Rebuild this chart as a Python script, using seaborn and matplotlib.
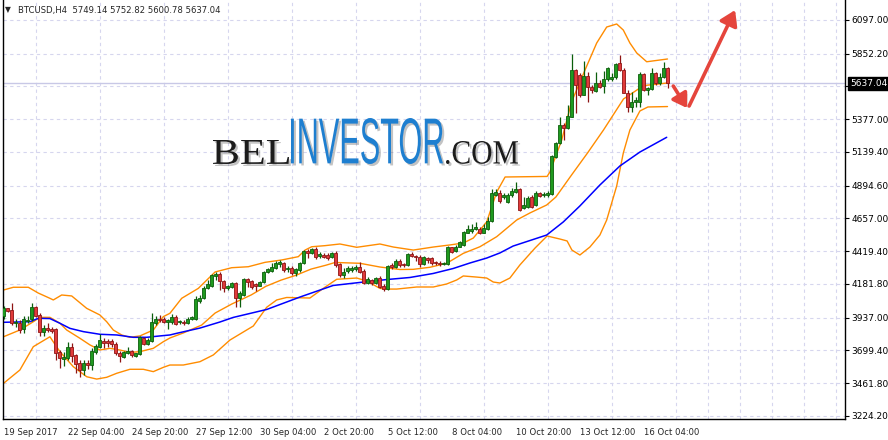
import numpy as np
import pandas as pd
import matplotlib
matplotlib.use("Agg")
import matplotlib.pyplot as plt
import matplotlib.patheffects as pe
import seaborn as sns
from matplotlib.textpath import TextPath
from matplotlib.patches import PathPatch, FancyArrowPatch
from matplotlib.font_manager import FontProperties
from matplotlib.transforms import Affine2D, IdentityTransform, blended_transform_factory

# ---- candle data (BTCUSD H4), one entry per bar ----
opens = [3950, 4005, 3993, 3896, 3901, 3853, 3911, 3925, 4012, 3957,
         3836, 3860, 3853, 3853, 3691, 3640, 3643, 3722, 3664, 3606,
         3558, 3606, 3594, 3691, 3727, 3771, 3768, 3771, 3744, 3679,
         3650, 3684, 3693, 3659, 3674, 3788, 3746, 3771, 3901, 3930,
         3930, 3908, 3909, 3945, 3904, 3909, 3899, 3928, 3928, 4059,
         4078, 4150, 4170, 4242, 4257, 4204, 4150, 4163, 4192, 4078,
         4102, 4216, 4204, 4179, 4170, 4194, 4271, 4276, 4300, 4325,
         4332, 4291, 4300, 4259, 4283, 4332, 4421, 4404, 4436, 4383,
         4392, 4392, 4375, 4404, 4327, 4247, 4279, 4283, 4288, 4308,
         4279, 4187, 4211, 4192, 4223, 4167, 4143, 4320, 4303, 4351,
         4327, 4317, 4399, 4385, 4380, 4327, 4368, 4368, 4341, 4337,
         4325, 4327, 4448, 4424, 4453, 4465, 4554, 4569, 4578, 4583,
         4554, 4578, 4641, 4830, 4844, 4815, 4779, 4827, 4852, 4869,
         4731, 4743, 4811, 4755, 4844, 4825, 4825, 4835, 5106, 5202,
         5335, 5311, 5396, 5734, 5698, 5553, 5691, 5608, 5584, 5642,
         5618, 5667, 5667, 5681, 5783, 5734, 5570, 5468, 5502, 5505,
         5705, 5589, 5594, 5710, 5638, 5681, 5749.14]
highs = [4022, 4010, 4041, 3925, 3921, 3950, 3950, 4041, 4022, 3969,
         3884, 3896, 3872, 3860, 3703, 3691, 3761, 3751, 3674, 3630,
         3630, 3630, 3715, 3746, 3819, 3788, 3780, 3780, 3763, 3698,
         3698, 3727, 3703, 3684, 3805, 3795, 3788, 3969, 3950, 3957,
         3940, 3925, 3962, 3957, 3923, 3918, 3942, 3952, 4097, 4102,
         4170, 4211, 4252, 4266, 4266, 4211, 4175, 4199, 4199, 4131,
         4223, 4223, 4211, 4187, 4204, 4276, 4300, 4332, 4349, 4358,
         4344, 4315, 4315, 4300, 4339, 4429, 4436, 4445, 4453, 4416,
         4404, 4404, 4416, 4424, 4337, 4296, 4312, 4312, 4317, 4344,
         4288, 4230, 4216, 4235, 4240, 4182, 4320, 4337, 4361, 4361,
         4337, 4409, 4416, 4392, 4392, 4385, 4375, 4375, 4346, 4346,
         4341, 4458, 4453, 4465, 4496, 4569, 4610, 4617, 4634, 4593,
         4617, 4666, 4869, 4869, 4864, 4840, 4840, 4876, 4924, 4876,
         4815, 4820, 4827, 4859, 4852, 4852, 4859, 5118, 5214, 5396,
         5347, 5480, 5850, 5739, 5710, 5802, 5722, 5625, 5722, 5662,
         5729, 5758, 5710, 5787, 5843, 5746, 5589, 5577, 5541, 5722,
         5710, 5613, 5746, 5722, 5710, 5795, 5752.82]
lows = [3925, 3981, 3884, 3872, 3824, 3824, 3901, 3916, 3940, 3805,
        3805, 3836, 3824, 3630, 3570, 3587, 3630, 3618, 3534, 3505,
        3522, 3563, 3558, 3674, 3715, 3715, 3727, 3727, 3667, 3618,
        3643, 3674, 3650, 3655, 3667, 3739, 3739, 3763, 3884, 3908,
        3896, 3853, 3894, 3884, 3889, 3884, 3894, 3923, 3923, 4042,
        4073, 4146, 4163, 4211, 4138, 4126, 4138, 4155, 4017, 4017,
        4097, 4160, 4146, 4131, 4165, 4189, 4259, 4271, 4291, 4308,
        4271, 4271, 4247, 4242, 4271, 4325, 4373, 4397, 4363, 4368,
        4368, 4358, 4368, 4308, 4235, 4223, 4264, 4271, 4279, 4259,
        4182, 4182, 4175, 4182, 4150, 4134, 4138, 4288, 4296, 4303,
        4308, 4312, 4375, 4351, 4308, 4320, 4332, 4320, 4320, 4312,
        4320, 4322, 4409, 4416, 4448, 4458, 4549, 4554, 4574, 4545,
        4549, 4574, 4634, 4820, 4767, 4796, 4767, 4815, 4844, 4714,
        4724, 4731, 4731, 4748, 4815, 4815, 4815, 4827, 5093, 5197,
        5226, 5304, 5391, 5425, 5536, 5553, 5505, 5565, 5577, 5601,
        5565, 5657, 5657, 5667, 5729, 5565, 5432, 5432, 5468, 5468,
        5584, 5553, 5589, 5625, 5625, 5674, 5600.78]
closes = [4005, 3988, 3896, 3906, 3848, 3925, 3921, 4012, 3950, 3836,
          3860, 3848, 3843, 3684, 3643, 3655, 3722, 3659, 3601, 3558,
          3606, 3597, 3696, 3732, 3776, 3756, 3751, 3744, 3679, 3659,
          3688, 3696, 3664, 3679, 3795, 3746, 3776, 3908, 3925, 3921,
          3906, 3921, 3945, 3894, 3913, 3899, 3928, 3942, 4073, 4083,
          4155, 4179, 4247, 4252, 4204, 4150, 4167, 4192, 4078, 4114,
          4216, 4199, 4163, 4170, 4194, 4271, 4288, 4308, 4337, 4339,
          4283, 4300, 4259, 4291, 4332, 4421, 4407, 4436, 4380, 4397,
          4378, 4373, 4404, 4320, 4247, 4271, 4296, 4296, 4308, 4271,
          4192, 4216, 4187, 4223, 4158, 4143, 4312, 4303, 4351, 4320,
          4317, 4399, 4385, 4375, 4327, 4375, 4356, 4337, 4332, 4327,
          4332, 4448, 4416, 4453, 4489, 4562, 4578, 4583, 4593, 4549,
          4586, 4641, 4840, 4849, 4786, 4827, 4827, 4859, 4871, 4719,
          4755, 4803, 4743, 4844, 4820, 4835, 4844, 5110, 5202, 5335,
          5311, 5401, 5734, 5625, 5553, 5691, 5613, 5589, 5642, 5613,
          5667, 5746, 5681, 5778, 5734, 5570, 5468, 5505, 5517, 5705,
          5589, 5601, 5710, 5638, 5681, 5746, 5637.04]

# ---- indicator lines, read at bar positions ----
bb_upper_bar = [0, 2.45, 6.2, 8.7, 11.6, 12.45, 14.55, 17.05, 20.8, 24.1,
                25.8, 27.45, 29.55, 31.6, 34.1, 37.45, 39.95, 41.6, 44.55, 48.7,
                52.9, 57.05, 61.2, 65.4, 69.55, 73.7, 75.4, 77.05, 80.4, 84.1,
                88.3, 94.1, 97.45, 102.45, 107.45, 111.6, 114.95, 117.45, 120.8, 123.3,
                125.4, 135.9, 136.6, 139.55, 142, 145.6, 148.3, 150.8, 153.3, 154.95,
                156.6, 158.3, 160.8, 166]
bb_upper = [4138, 4158, 4158, 4116, 4078, 4066, 4102, 4095, 4005, 3957,
            3908, 3848, 3812, 3795, 3805, 3848, 3945, 3969, 4078, 4150,
            4269, 4300, 4307, 4339, 4356, 4380, 4428, 4452, 4460, 4472,
            4448, 4472, 4450, 4428, 4450, 4465, 4479, 4515, 4632, 4849,
            4958, 4962, 4994, 5226, 5502, 5749, 5930, 6046, 6068, 6024,
            5930, 5858, 5794, 5814]
bb_mid_bar = [0, 4.1, 7.45, 9.1, 11.6, 14.1, 15.8, 19.1, 21.6, 24.1,
              26.6, 29.1, 31.6, 34.1, 37.45, 39.95, 41.6, 44.9, 49.55, 52.9,
              57.1, 61.9, 65.6, 69.4, 73.1, 76.9, 80.6, 82.9, 89.1, 94.1,
              99.1, 102.4, 106.6, 110.8, 114.95, 119.1, 123.3, 128.3, 131.6, 135.8,
              138.1, 142, 146, 150, 155, 160, 166]
bb_mid = [3799, 3848, 3908, 3940, 3940, 3897, 3848, 3788, 3740, 3703,
          3715, 3703, 3685, 3691, 3715, 3763, 3790, 3826, 3884, 3971,
          4037, 4102, 4165, 4210, 4245, 4290, 4318, 4338, 4332, 4305,
          4287, 4288, 4303, 4332, 4404, 4452, 4525, 4646, 4697, 4755,
          4813, 4972, 5132, 5299, 5524, 5621, 5640]
bb_lower_bar = [0, 4.1, 7.45, 11.6, 14.1, 17.45, 20.8, 23.3, 25.8, 28.3,
                31.6, 34.95, 37.45, 39.95, 41.6, 44.95, 49.1, 52.45, 56.6, 62.45,
                65.8, 68.3, 70.8, 76.6, 79.95, 83.3, 88.3, 90.8, 94.1, 95.8,
                98.3, 103.3, 107.45, 110.8, 113.3, 114.95, 118.3, 120.8, 122.45, 124.1,
                126.6, 129.1, 132.9, 135.9, 139.1, 140.9, 142.1, 144.1, 146.6, 149.1,
                150.8, 153.3, 154.95, 156.6, 159.1, 161.1, 166]
bb_lower = [3461, 3558, 3727, 3799, 3691, 3582, 3509, 3492, 3505, 3534,
            3563, 3563, 3546, 3577, 3594, 3594, 3618, 3667, 3775, 3877,
            4013, 4066, 4084, 4080, 4150, 4216, 4225, 4204, 4150, 4145,
            4145, 4160, 4160, 4182, 4211, 4240, 4232, 4225, 4196, 4189,
            4225, 4320, 4443, 4530, 4508, 4494, 4428, 4392, 4450, 4537,
            4646, 4893, 5132, 5299, 5437, 5466, 5469]
ma_bar = [0, 6.6, 8.7, 11.6, 14.1, 16.6, 20, 24.1, 28.3, 32.45,
          35.8, 39.1, 41.6, 43.3, 49.1, 54.1, 57.4, 65.8, 74.1, 82.4,
          89.1, 95.8, 101.6, 107.4, 112.4, 116.6, 120.8, 124.1, 127.4, 131.6,
          135.8, 139.95, 144.1, 149.1, 154.1, 159.1, 165.8]
ma_line = [3904, 3908, 3933, 3931, 3897, 3860, 3836, 3817, 3812, 3795,
           3795, 3805, 3812, 3824, 3862, 3906, 3939, 3997, 4087, 4171,
           4193, 4214, 4229, 4258, 4294, 4334, 4370, 4407, 4457, 4497,
           4537, 4632, 4748, 4900, 5038, 5139, 5246]

# ---- axis labels ----
price_ticks = [3224.20, 3461.80, 3699.40, 3937.00, 4181.80, 4419.40, 4657.00,
               4894.60, 5139.40, 5377.00, 5614.60, 5852.20, 6097.00]
time_tick_bars = [0, 16, 32, 48, 64, 80, 96, 112, 128, 144, 160]
time_tick_labels = ["19 Sep 2017", "22 Sep 04:00", "24 Sep 20:00", "27 Sep 12:00",
                    "30 Sep 04:00", "2 Oct 20:00", "5 Oct 12:00", "8 Oct 04:00",
                    "10 Oct 20:00", "13 Oct 12:00", "16 Oct 04:00"]
header = "BTCUSD,H4  5749.14 5752.82 5600.78 5637.04"
last_price = 5637.04

W, H = 888, 440
sns.set_style("white")
plt.rcParams["font.family"] = ["DejaVu Sans"]

fig = plt.figure(figsize=(W / 100, H / 100), dpi=100)
fig.patch.set_facecolor("white")
ax = fig.add_axes([2.5 / W, 21 / H, (845 - 2.5) / W, 419 / H])
ax.set_facecolor("white")
ax.set_xlim(-0.25, 210.375)
ax.set_ylim(3202.4, 6242.0)

grid_col = "#d6d6ee"
ax.set_yticks(price_ticks)
# the 5614.60 label sits under the last-price box, so it stays hidden
ax.set_yticklabels(["" if abs(p - 5614.6) < 1 else f"{p:.2f}" for p in price_ticks])
ax.set_xticks(time_tick_bars)
ax.set_xticklabels(time_tick_labels, ha="left")
ax.set_xticks(np.arange(0, 211, 8), minor=True)
ax.yaxis.tick_right()
ax.tick_params(axis="y", which="major", direction="out", length=3, width=0.8,
               pad=1.5, labelsize=6.5, colors="black")
ax.tick_params(axis="x", which="major", direction="out", length=4, width=0.8,
               pad=2.5, labelsize=6.1)
ax.tick_params(axis="x", which="minor", length=0)
ax.grid(False)
ax.grid(True, axis="y", which="major", color=grid_col, linestyle=(0, (3, 3)), lw=0.8)
ax.grid(True, axis="x", which="minor", color=grid_col, linestyle=(0, (3, 3)), lw=0.8)
ax.set_axisbelow(True)
for s in ["left", "bottom", "right"]:
    ax.spines[s].set_color("black")
    ax.spines[s].set_linewidth(1.0)
ax.spines["top"].set_visible(False)

# current price line
ax.axhline(last_price, color="#c8c8e6", lw=1.0, zorder=1)

# indicators
sns.lineplot(x=bb_upper_bar, y=bb_upper, ax=ax, color="#ff8c00", lw=1.0,
             estimator=None, sort=False, zorder=2)
sns.lineplot(x=bb_mid_bar, y=bb_mid, ax=ax, color="#ff8c00", lw=1.0,
             estimator=None, sort=False, zorder=2)
sns.lineplot(x=bb_lower_bar, y=bb_lower, ax=ax, color="#ff8c00", lw=1.0,
             estimator=None, sort=False, zorder=2)
sns.lineplot(x=ma_bar, y=ma_line, ax=ax, color="#0000ff", lw=1.1,
             estimator=None, sort=False, zorder=2)

# candles
df = pd.DataFrame({"open": opens, "high": highs, "low": lows, "close": closes})
df["bar"] = np.arange(len(df))
up = df["close"] >= df["open"]
body_lo = df[["open", "close"]].min(axis=1)
body_h = (df["close"] - df["open"]).abs().clip(lower=6)
wick_col = np.where(up, "#0b5e0b", "#8e1414")
body_col = np.where(up, "#1f9a1f", "#e03a3a")
ax.vlines(df["bar"], df["low"], df["high"], colors=wick_col, lw=0.9, zorder=3)
ax.bar(df["bar"], body_h, bottom=body_lo, width=0.75, color=body_col,
       edgecolor=wick_col, linewidth=0.6, zorder=4)

# last price box
trans = blended_transform_factory(ax.transAxes, ax.transData)
ax.text(1.006, last_price, f"{last_price:.2f}", transform=trans, ha="left",
        va="center", color="white", fontsize=6.5, zorder=20, clip_on=False,
        bbox=dict(boxstyle="square,pad=0.25", fc="black", ec="black"))

# header
fig.text(5 / W, 1 - 10 / H, "\u25bc", fontsize=5.5, va="center", ha="left")
fig.text(18 / W, 1 - 10 / H, header, fontsize=6.1, va="center", ha="left")


# watermark
def word(text, family, color, x0, y_top, x1, y_base, weight="normal"):
    tp = TextPath((0, 0), text, size=100, prop=FontProperties(family=family, weight=weight))
    bb = tp.get_extents()
    sx = (x1 - x0) / bb.width
    sy = (y_base - y_top) / bb.height
    tr = Affine2D().translate(-bb.x0, -bb.y0).scale(sx, sy).translate(x0, H - y_base)
    patch = PathPatch(tr.transform_path(tp), fc=color, ec="none",
                      transform=IdentityTransform(), zorder=5)
    patch.set_path_effects([pe.SimplePatchShadow(offset=(1.5, -1.5), shadow_rgbFace="#555555",
                                                 alpha=0.35), pe.Normal()])
    fig.add_artist(patch)


word("BEL", "Liberation Serif", "#1c1c1c", 213, 140, 289, 164)
word("INVESTOR", "Liberation Sans", "#1e7fd0", 291, 118, 443, 164)
word(".COM", "Liberation Serif", "#1c1c1c", 446, 141, 518, 164)

# arrows
red = "#e5453c"
a1 = FancyArrowPatch((167.45, 5618), (170.9, 5458), arrowstyle="-|>,head_length=0.55,head_width=0.35",
                     mutation_scale=15, color=red, lw=2.6, zorder=6, shrinkA=0, shrinkB=0)
a2 = FancyArrowPatch((171.4, 5473), (182.9, 6169), arrowstyle="-|>,head_length=0.55,head_width=0.35",
                     mutation_scale=16, color=red, lw=2.6, zorder=6, shrinkA=0, shrinkB=0)
for a in (a1, a2):
    a.set_path_effects([pe.SimplePatchShadow(offset=(1.5, -1.5), shadow_rgbFace="#888888", alpha=0.4),
                        pe.Normal()])
    a.set_clip_on(False)
    ax.add_patch(a)

fig.savefig("out.png", dpi=100, facecolor="white")
